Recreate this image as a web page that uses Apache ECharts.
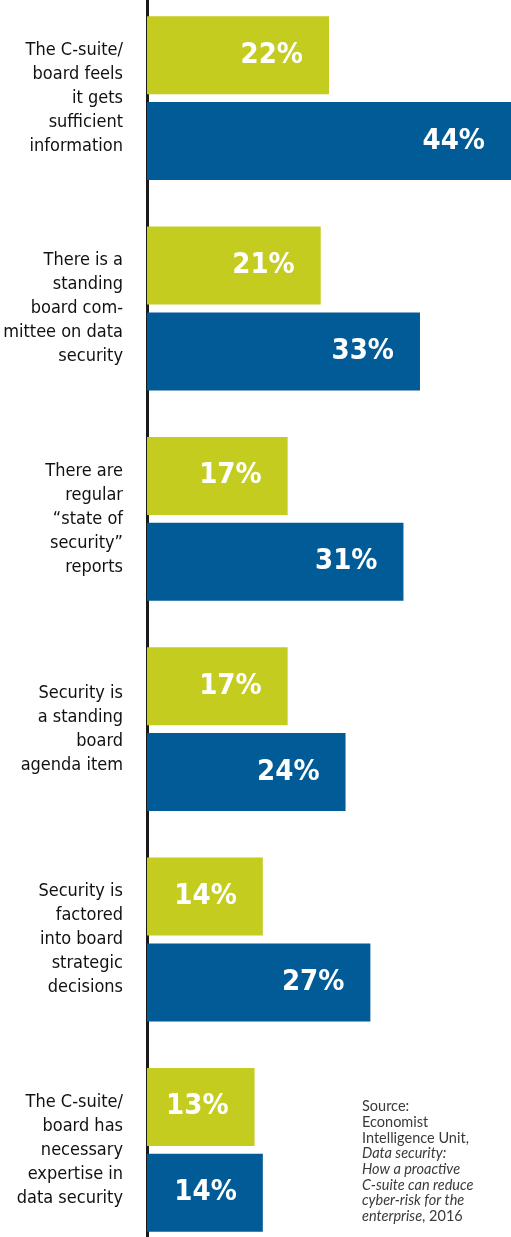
<!DOCTYPE html>
<html>
<head>
<meta charset="utf-8">
<script src="https://cdn.jsdelivr.net/npm/echarts@6/dist/echarts.min.js"></script>
<style>
  html, body { margin: 0; padding: 0; background: #fff; }
  #container { width: 511px; height: 1237px; }
</style>
</head>
<body>
<div id="container"></div>
<script>
var categories = [
    'The C-suite/\nboard feels\nit gets\nsufficient\ninformation',
    'There is a\nstanding\nboard com-\nmittee on data\nsecurity',
    'There are\nregular\n\u201cstate of\nsecurity\u201d\nreports',
    'Security is\na standing\nboard\nagenda item',
    'Security is\nfactored\ninto board\nstrategic\ndecisions',
    'The C-suite/\nboard has\nnecessary\nexpertise in\ndata security'
];
var greenValues = [22, 21, 17, 17, 14, 13];
var blueValues = [44, 33, 31, 24, 27, 14];

var dom = document.getElementById('container');
var myChart = echarts.init(dom);

var condensed = '"DejaVu Sans Condensed", "DejaVu Sans", sans-serif';

var valueLabel = {
    show: true,
    position: 'insideRight',
    distance: 26,
    formatter: '{c}%',
    color: '#fff',
    fontFamily: condensed,
    fontWeight: 'bold',
    fontSize: 29
};

var option = {
    animation: false,
    backgroundColor: '#fff',
    grid: {
        left: 147,
        right: 0,
        top: -7,
        bottom: -18,
        containLabel: false,
        outerBoundsMode: 'none'
    },
    xAxis: {
        type: 'value',
        min: 0,
        max: 44,
        show: false
    },
    yAxis: {
        type: 'category',
        inverse: true,
        data: categories,
        axisLine: {
            lineStyle: { color: '#1a1a1a', width: 3 }
        },
        axisTick: { show: false },
        axisLabel: {
            margin: 24,
            color: '#111',
            fontFamily: condensed,
            fontSize: 18,
            lineHeight: 24,
            align: 'right'
        }
    },
    series: [{
        name: 'Group A',
        type: 'bar',
        data: greenValues,
        barWidth: 78,
        barGap: '10%',
        itemStyle: { color: '#c4cc1f' },
        label: valueLabel
    }, {
        name: 'Group B',
        type: 'bar',
        data: blueValues,
        barWidth: 78,
        barGap: '10%',
        itemStyle: { color: '#005b96' },
        label: valueLabel
    }],
    graphic: [{
        type: 'text',
        left: 362,
        top: 1099,
        style: {
            text: '{n|Source:}\n{n|Economist}\n{n|Intelligence Unit,}\n{i|Data security:}\n{i|How a proactive}\n{i|C-suite can reduce}\n{i|cyber-risk for the}\n{i|enterprise}{n|, 2016}',
            rich: {
                n: { fontFamily: 'Lato, "Open Sans", sans-serif', fontSize: 14.5, lineHeight: 15.7, fill: '#3a3a3a' },
                i: { fontFamily: 'Lato, "Open Sans", sans-serif', fontStyle: 'italic', fontSize: 14.5, lineHeight: 15.7, fill: '#3a3a3a' }
            }
        }
    }]
};

if (option && typeof option === 'object') {
    myChart.setOption(option, true);
}
</script>
</body>
</html>
